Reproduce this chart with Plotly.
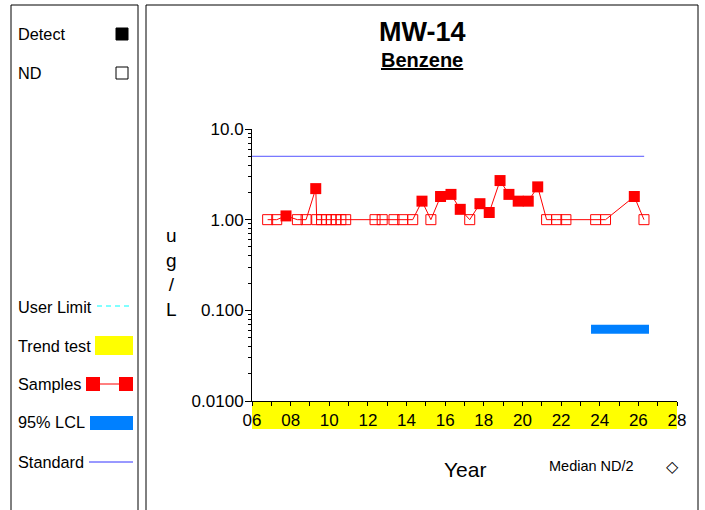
import plotly.graph_objects as go

# ---------------- data ----------------
nd_years = [2006.81, 2007.28, 2008.35, 2008.80, 2009.35, 2009.60, 2009.85, 2010.10,
            2010.35, 2010.60, 2010.85, 2012.37, 2012.74, 2013.35, 2013.80, 2014.32,
            2015.26, 2017.27, 2021.25, 2021.77, 2022.25, 2023.79, 2024.30, 2026.29]
nd_values = [1.0] * len(nd_years)

det_years = [2007.76, 2009.30, 2014.80, 2015.76, 2016.30, 2016.78, 2017.80, 2018.28,
             2018.84, 2019.30, 2019.78, 2020.30, 2020.79, 2025.79]
det_values = [1.1, 2.2, 1.6, 1.8, 1.9, 1.3, 1.5, 1.2, 2.7, 1.9, 1.6, 1.6, 2.3, 1.8]

standard_value = 5.0
standard_years = [2006.0, 2026.3]

lcl_value = 0.062
lcl_years = [2023.55, 2026.55]

median_nd2_year = 2028.24
median_nd2_value = 0.5

x_tick_vals = list(range(2006, 2029, 2))
x_tick_text = ["06", "08", "10", "12", "14", "16", "18", "20", "22", "24", "26", "28"]
x_minor_vals = list(range(2007, 2028, 2))
y_tick_vals = [0.01, 0.1, 1, 10]
y_tick_text = ["0.0100", "0.100", "1.00", "10.0"]
y_minor_vals = [m * 10 ** e for e in (-2, -1, 0) for m in range(2, 10)]

# combined sample series in time order
samples = sorted(list(zip(nd_years, nd_values)) + list(zip(det_years, det_values)))
s_years = [s[0] for s in samples]
s_values = [s[1] for s in samples]

# ---------------- layout helpers ----------------
W, H = 705, 510
L, R, T, B = 252, 677, 129, 401
FONT = "Arial, Liberation Sans, sans-serif"


def px(x):
    return (x - L) / (R - L)


def py(y):
    return (B - y) / (B - T)


RED = "#FF0000"

fig = go.Figure()

fig.add_trace(go.Scatter(x=standard_years, y=[standard_value] * 2, mode="lines",
                         line=dict(color="#5555FF", width=1), hoverinfo="skip"))
fig.add_trace(go.Scatter(x=lcl_years, y=[lcl_value] * 2, mode="lines",
                         line=dict(color="#0080FF", width=9), hoverinfo="skip"))
fig.add_trace(go.Scatter(x=s_years, y=s_values, mode="lines",
                         line=dict(color=RED, width=1)))
fig.add_trace(go.Scatter(x=nd_years, y=nd_values, mode="markers",
                         marker=dict(symbol="square-open", size=10, color=RED,
                                     line=dict(width=1, color=RED))))
fig.add_trace(go.Scatter(x=det_years, y=det_values, mode="markers",
                         marker=dict(symbol="square", size=11, color=RED,
                                     line=dict(width=0))))
fig.add_trace(go.Scatter(x=[median_nd2_year], y=[median_nd2_value], mode="markers",
                         cliponaxis=False,
                         marker=dict(symbol="diamond-open", size=9, color=RED,
                                     line=dict(width=1, color=RED))))

shapes = []
# panel frames
shapes.append(dict(type="rect", xref="paper", yref="paper", x0=px(11), x1=px(138),
                   y0=py(5), y1=py(520), line=dict(color="black", width=1), layer="below"))
shapes.append(dict(type="rect", xref="paper", yref="paper", x0=px(146), x1=px(698),
                   y0=py(5), y1=py(520), line=dict(color="black", width=1), layer="below"))
# yellow trend band
shapes.append(dict(type="rect", xref="x", yref="paper", x0=2006, x1=2028,
                   y0=py(429), y1=py(401), fillcolor="#FFFF00", line=dict(width=0),
                   layer="below"))
# legend glyphs
shapes.append(dict(type="rect", xref="paper", yref="paper", x0=px(116), x1=px(128),
                   y0=py(40), y1=py(28), fillcolor="black", line=dict(color="black", width=1)))
shapes.append(dict(type="rect", xref="paper", yref="paper", x0=px(116), x1=px(128),
                   y0=py(79), y1=py(67), fillcolor="white", line=dict(color="black", width=1)))
shapes.append(dict(type="line", xref="paper", yref="paper", x0=px(97), x1=px(133),
                   y0=py(306), y1=py(306),
                   line=dict(color="#00FFFF", width=1, dash="5px,4px")))
shapes.append(dict(type="rect", xref="paper", yref="paper", x0=px(95), x1=px(133),
                   y0=py(355), y1=py(336), fillcolor="#FFFF00", line=dict(width=0)))
shapes.append(dict(type="line", xref="paper", yref="paper", x0=px(93), x1=px(126),
                   y0=py(384), y1=py(384), line=dict(color=RED, width=1)))
shapes.append(dict(type="rect", xref="paper", yref="paper", x0=px(86), x1=px(100),
                   y0=py(391), y1=py(377), fillcolor=RED, line=dict(width=0)))
shapes.append(dict(type="rect", xref="paper", yref="paper", x0=px(119), x1=px(133),
                   y0=py(391), y1=py(377), fillcolor=RED, line=dict(width=0)))
shapes.append(dict(type="rect", xref="paper", yref="paper", x0=px(90), x1=px(133),
                   y0=py(430), y1=py(416), fillcolor="#0080FF", line=dict(width=0)))
shapes.append(dict(type="line", xref="paper", yref="paper", x0=px(89), x1=px(133),
                   y0=py(462), y1=py(462), line=dict(color="#3333FF", width=1)))

ann = []


def text(x, y, s, size=16.3, xanchor="left"):
    ann.append(dict(x=px(x), y=py(y), xref="paper", yref="paper", text=s,
                    showarrow=False, xanchor=xanchor, yanchor="middle",
                    font=dict(family=FONT, size=size, color="black")))


text(16, 34, "Detect")
text(16, 73, "ND")
text(16, 307, "User Limit")
text(16, 346, "Trend test")
text(16, 384, "Samples")
text(16, 422, "95% LCL")
text(16, 462, "Standard")
text(422, 32, "<b>MW-14</b>", size=27, xanchor="center")
text(422, 60, "<b><u>Benzene</u></b>", size=20, xanchor="center")
ann.append(dict(x=px(171), y=py(272), xref="paper", yref="paper",
                text="u<br>g<br>/<br>L", showarrow=False, xanchor="center",
                yanchor="middle", font=dict(family=FONT, size=19, color="black")))
text(465, 469, "Year", size=21, xanchor="center")
text(591, 466, "Median ND/2", size=14.5, xanchor="center")
text(672, 466, "◇", size=16, xanchor="center")

fig.update_layout(
    width=W, height=H,
    margin=dict(l=L, r=W - R, t=T, b=H - B, pad=0),
    paper_bgcolor="white", plot_bgcolor="white",
    showlegend=False,
    shapes=shapes, annotations=ann,
    font=dict(family=FONT, size=17, color="black"),
    xaxis=dict(range=[2006, 2028], tickmode="array", tickvals=x_tick_vals,
               ticktext=x_tick_text, ticks="outside", ticklen=4, tickcolor="black",
               showline=True, linecolor="black", linewidth=1, showgrid=False,
               zeroline=False, tickfont=dict(family=FONT, size=17, color="black"),
               minor=dict(tickmode="array", tickvals=x_minor_vals, ticks="outside",
                          ticklen=4, tickcolor="black", showgrid=False)),
    yaxis=dict(type="log", range=[-2, 1], tickmode="array", tickvals=y_tick_vals,
               ticktext=y_tick_text, ticks="outside", ticklen=6, tickcolor="black",
               ticklabelstandoff=-2,
               showline=True, linecolor="black", linewidth=1, showgrid=False,
               zeroline=False, tickfont=dict(family=FONT, size=17, color="black"),
               minor=dict(tickmode="array", tickvals=y_minor_vals, ticks="outside",
                          ticklen=3, tickcolor="black", showgrid=False)),
)

fig.write_html("out.html", config={"displayModeBar": False},
               post_script="document.body.style.margin='0';")
